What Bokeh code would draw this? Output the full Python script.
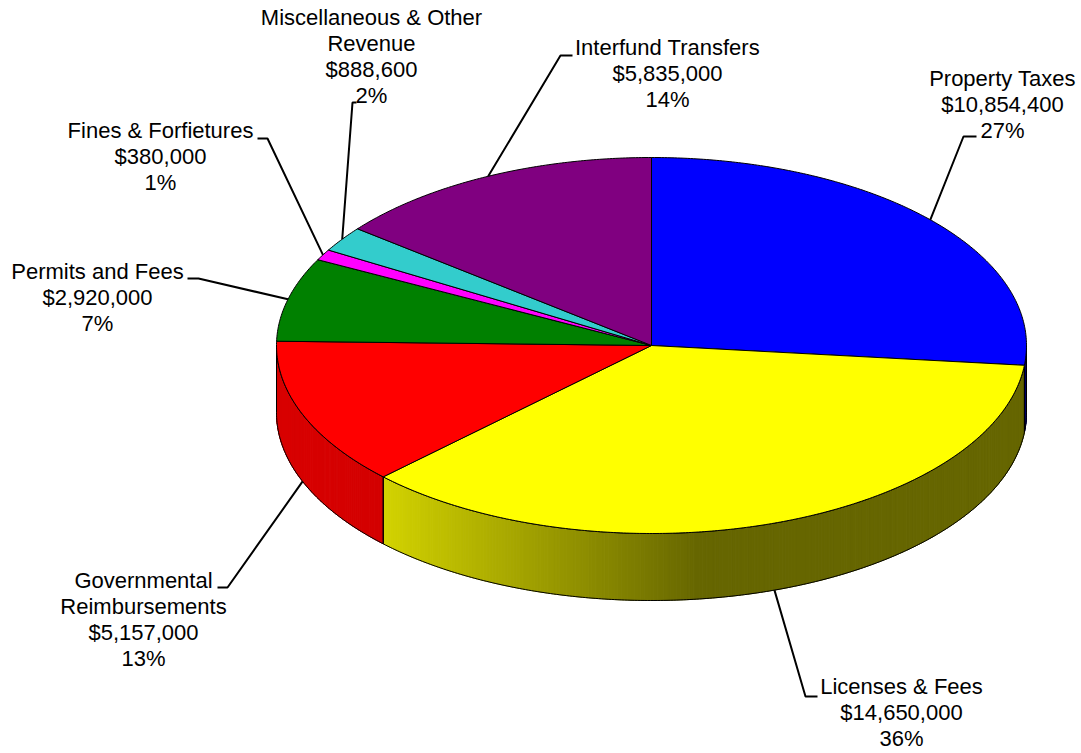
import numpy as np
from bokeh.plotting import figure
from bokeh.models import Range1d
from bokeh.embed import file_html
from bokeh.resources import INLINE
from bokeh.core.properties import value

# ---------------- data ----------------
categories = ["Property Taxes", "Licenses & Fees", "Governmental Reimbursements",
              "Permits and Fees", "Fines & Forfietures",
              "Miscellaneous & Other Revenue", "Interfund Transfers"]
label_names = ["Property Taxes", "Licenses & Fees", "Governmental\nReimbursements",
               "Permits and Fees", "Fines & Forfietures",
               "Miscellaneous & Other\nRevenue", "Interfund Transfers"]
amounts = [10854400, 14650000, 5157000, 2920000, 380000, 888600, 5835000]
colors = ["#0000FF", "#FFFF00", "#FF0000", "#008000", "#FF00FF", "#33CCCC", "#800080"]

# ---------------- layout ----------------
CX, CY, RX, RY, DEPTH = 651.0, 345.0, 375.0, 188.0, 67.0
label_xy = [(1002, 104), (901, 712), (143, 619), (97, 297), (160, 156), (371, 56), (667, 73)]
leader_elbows = [[(963, 136), (976, 136)],
                 [(805, 696), (817, 696)],
                 [(227, 587), (217, 587)],
                 [(198, 278), (187, 278)],
                 [(267, 138), (257, 138)],
                 [(352, 102), (356, 102)],
                 [(560, 55), (572, 55)]]

FONT = value("Liberation Sans")

p = figure(width=1081, height=753, x_range=Range1d(0, 1081), y_range=Range1d(753, 0),
           output_backend="svg", toolbar_location=None, min_border=0,
           x_axis_location=None, y_axis_location=None)
p.grid.visible = False
p.outline_line_color = None
p.background_fill_color = "white"


def ex(t):
    return CX + RX * np.cos(np.radians(t))


def ey(t):
    return CY - RY * np.sin(np.radians(t))


def hex_rgb(h):
    h = h.lstrip("#")
    return tuple(int(h[i:i + 2], 16) for i in (0, 2, 4))


def shade(x):
    return float(np.interp(x, [275, 382, 700, 1026], [0.85, 0.83, 0.40, 0.40]))


total = float(sum(amounts))
fracs = [a / total for a in amounts]
starts, ends = [], []
ang = 90.0
for f in fracs:
    starts.append(ang)
    ang -= 360.0 * f
    ends.append(ang)

# ---------- side walls (front half) ----------
strip_xs, strip_ys, strip_cols = [], [], []
wall_xs, wall_ys = [], []
for s, e, c in zip(starts, ends, colors):
    lo, hi = max(e, -180.0), min(s, 0.0)
    if lo >= hi:
        continue
    n = max(2, int((hi - lo) / 0.5) + 1)
    ts = np.linspace(hi, lo, n)
    r, g, b = hex_rgb(c)
    for t1, t2 in zip(ts[:-1], ts[1:]):
        x1, x2 = ex(t1), ex(t2)
        y1, y2 = ey(t1), ey(t2)
        strip_xs.append([x1, x2, x2, x1])
        strip_ys.append([y1, y2, y2 + DEPTH, y1 + DEPTH])
        k = shade((x1 + x2) / 2)
        strip_cols.append("#%02x%02x%02x" % (int(r * k), int(g * k), int(b * k)))
    xs_top = [ex(t) for t in ts]
    ys_top = [ey(t) for t in ts]
    wall_xs.append(xs_top + xs_top[::-1])
    wall_ys.append(ys_top + [y + DEPTH for y in ys_top[::-1]])

p.patches(strip_xs, strip_ys, fill_color=strip_cols, line_color=strip_cols, line_width=1)
p.patches(wall_xs, wall_ys, fill_color=None, line_color="black", line_width=1)

# ---------- top faces ----------
top_xs, top_ys = [], []
for s, e in zip(starts, ends):
    n = max(3, int((s - e) / 0.5) + 2)
    ts = np.linspace(s, e, n)
    top_xs.append([CX] + [ex(t) for t in ts])
    top_ys.append([CY] + [ey(t) for t in ts])
p.patches(top_xs, top_ys, fill_color=colors, line_color="black", line_width=1)

# ---------- leaders ----------
lead_xs, lead_ys = [], []
for s, e, elb in zip(starts, ends, leader_elbows):
    m = (s + e) / 2
    px, py = ex(m), ey(m)
    if np.sin(np.radians(m)) < 0:
        py += DEPTH
    lead_xs.append([px] + [q[0] for q in elb])
    lead_ys.append([py] + [q[1] for q in elb])
p.multi_line(lead_xs, lead_ys, line_color="black", line_width=2)

# ---------- labels ----------
texts = []
for nm, a, f in zip(label_names, amounts, fracs):
    texts.append(f"{nm}\n${a:,}\n{round(100 * f)}%")
p.text(x=[q[0] for q in label_xy], y=[q[1] for q in label_xy], text=texts,
       text_align="center", text_baseline="middle", text_font=FONT,
       text_font_size="22px", text_color="black", text_line_height=1.03)

open("out.html", "w").write(file_html(p, INLINE))
